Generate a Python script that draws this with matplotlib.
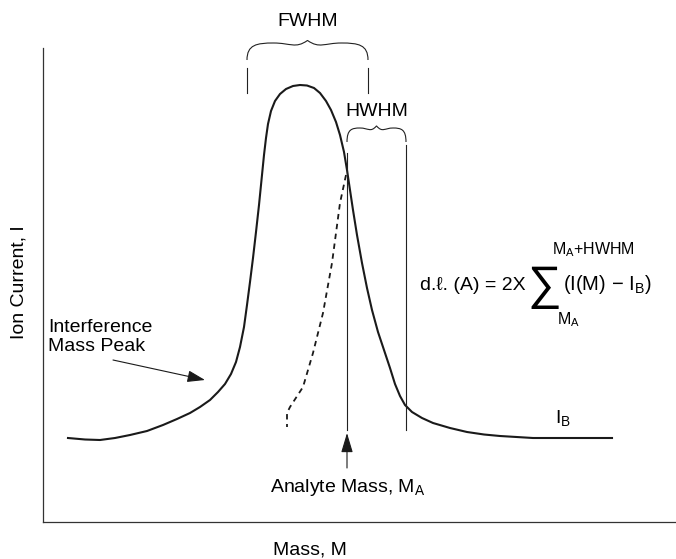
"""
Schematic: detection limit from an interference mass peak (FWHM / HWHM).
Coordinates are read off the reference figure: mass along x, ion current up.
"""
import matplotlib
matplotlib.use("Agg")
import matplotlib.pyplot as plt
from matplotlib.path import Path
from matplotlib.patches import PathPatch

plt.rcParams["font.family"] = ["Liberation Sans", "DejaVu Sans"]
plt.rcParams["mathtext.fontset"] = "custom"
plt.rcParams["mathtext.rm"] = "Liberation Sans"
plt.rcParams["mathtext.it"] = "Liberation Sans"

# interference peak (solid curve)
peak_mass = [25, 42, 57, 72, 87, 104, 120, 134, 147, 157, 167, 175, 182, 188,
             193, 197, 201, 204, 207, 210, 213, 216, 219, 221, 223, 225, 228,
             232, 237, 243, 250, 257, 264, 271, 277, 283, 288, 293, 297, 301,
             304, 307, 310, 314, 319, 324, 329, 335, 341, 347, 352, 357, 362,
             369, 379, 390, 407, 424, 441, 457, 490, 527, 569]
peak_current = [84, 82.5, 82, 84, 87, 91, 97, 103, 109, 115, 122, 130, 138, 148,
                160, 175, 195, 217, 240, 264, 290, 317, 347, 367, 384, 398, 411,
                421, 428, 433, 436, 437, 436.5, 434, 429, 421, 412, 400, 387, 370,
                352, 332, 312, 287, 259, 234, 212, 190, 172, 154, 138, 126, 117,
                110, 104, 99, 94, 90, 87.5, 86, 84, 84, 84]

# analyte peak flank (dashed curve)
analyte_mass = [303, 297, 289, 280, 270, 260, 247, 244, 244]
analyte_current = [347, 319, 259, 209, 169, 135, 115, 109, 95]

analyte_m = 304      # M_A
hwhm_edge = 363      # M_A + HWHM
fwhm_left, fwhm_right = 204, 325


def brace(ax, x0, x1, yb, yt, lw=0.8):
    """Curly brace opening downwards, ends at yb, arcs at yt."""
    w = x1 - x0
    h = yt - yb
    xm = (x0 + x1) / 2
    verts = [
        (x0, yb), (x0, yb + 0.9 * h), (x0 + 0.08 * w, yt), (x0 + 0.22 * w, yt),
        (x0 + 0.36 * w, yt), (xm - 0.1 * w, yt - 0.35 * h), (xm, yt + 0.15 * h),
        (xm + 0.1 * w, yt - 0.35 * h), (x1 - 0.36 * w, yt), (x1 - 0.22 * w, yt),
        (x1 - 0.08 * w, yt), (x1, yb + 0.9 * h), (x1, yb),
    ]
    codes = [Path.MOVETO] + [Path.CURVE4] * 12
    ax.add_patch(PathPatch(Path(verts, codes), fill=False, lw=lw,
                           color="#222222", clip_on=False))


fig = plt.figure(figsize=(6.76, 5.59), dpi=100)
ax = fig.add_axes([43 / 676, 37 / 559, 633 / 676, 474 / 559])
ax.set_xlim(0, 633)
ax.set_ylim(0, 474)
ax.set_xticks([])
ax.set_yticks([])
for side in ("top", "right"):
    ax.spines[side].set_visible(False)
for side in ("left", "bottom"):
    ax.spines[side].set_color("#333333")
    ax.spines[side].set_linewidth(0.9)

ax.plot(peak_mass, peak_current, color="#1a1a1a", lw=1.5, clip_on=False,
        solid_joinstyle="round")
ax.plot(analyte_mass, analyte_current, color="#1a1a1a", lw=1.3,
        dashes=(3, 2.5), clip_on=False)

# markers for M_A and M_A + HWHM
ax.plot([analyte_m, analyte_m], [92, 369], color="#222222", lw=0.8)
ax.plot([hwhm_edge, hwhm_edge], [92, 377], color="#222222", lw=0.8)
ax.plot([fwhm_left, fwhm_left], [429, 454], color="#222222", lw=0.8, clip_on=False)
ax.plot([fwhm_right, fwhm_right], [429, 454], color="#222222", lw=0.8, clip_on=False)

brace(ax, fwhm_left, fwhm_right, 462, 479)
brace(ax, analyte_m, hwhm_edge, 380, 394)

fs = 14
ax.text((fwhm_left + fwhm_right) / 2, 500, "FWHM", ha="center", va="center",
        fontsize=fs, clip_on=False)
ax.text((analyte_m + hwhm_edge) / 2, 411, "HWHM", ha="center", va="center",
        fontsize=fs)
ax.text(512, 104, r"I$_\mathrm{B}$", ha="left", va="center", fontsize=fs)

ax.text(5, 185, "Interference\nMass Peak", ha="left", va="center",
        fontsize=fs, linespacing=1.15)
ax.annotate("", xy=(162, 142), xytext=(70, 162),
            arrowprops=dict(arrowstyle="-|>,head_length=0.9,head_width=0.3",
                            mutation_scale=12, color="#1a1a1a", lw=0.8,
                            shrinkA=0, shrinkB=0))

ax.annotate("", xy=(analyte_m, 89), xytext=(analyte_m, 54),
            arrowprops=dict(arrowstyle="-|>,head_length=1.0,head_width=0.3",
                            mutation_scale=12, color="#1a1a1a", lw=0.8,
                            shrinkA=0, shrinkB=0))
ax.text(227, 35, r"Analyte Mass, M$_\mathrm{A}$", ha="left", va="center",
        fontsize=fs)

# detection limit formula
ax.text(483, 237, "d.ℓ. (A) = 2X", ha="right", va="center", fontsize=14)
ax.text(501, 235, "∑", ha="center", va="center", fontsize=34)
ax.text(520, 237, r"(I(M) − I$_\mathrm{B}$)", ha="left", va="center",
        fontsize=14.5, clip_on=False)
ax.text(509, 272, r"M$_\mathrm{A}$+HWHM", ha="left", va="center", fontsize=11.5)
ax.text(514, 202, r"M$_\mathrm{A}$", ha="left", va="center", fontsize=11.5)

ax.text(267, -28, "Mass, M", ha="center", va="center", fontsize=fs,
        clip_on=False)
ax.text(-24, 240, "Ion Current, I", ha="center", va="center", rotation=90,
        fontsize=fs, clip_on=False)

fig.savefig("out.png", dpi=100)
